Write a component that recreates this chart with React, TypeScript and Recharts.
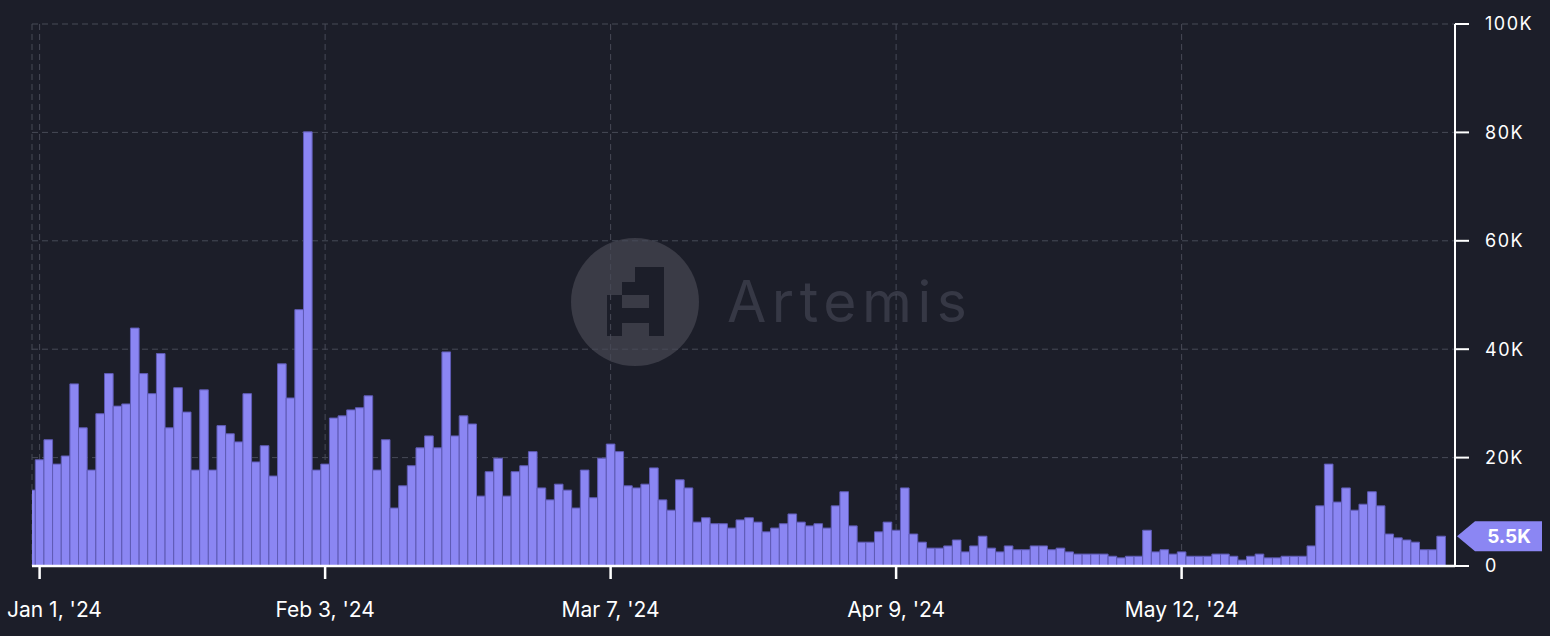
import { BarChart, Bar, XAxis, YAxis, CartesianGrid, ReferenceLine } from "recharts";

// daily values in thousands, Dec 31 '23 -> Jun 11 '24
const dec31 = [14.0];
const jan = [
  19.6, 23.3, 18.8, 20.3, 33.6, 25.5, 17.7, 28.1, 35.5, 29.5, 29.9, 43.9, 35.5, 31.8, 39.2, 25.5,
  32.9, 28.4, 17.7, 32.5, 17.7, 25.9, 24.4, 22.9, 31.8, 19.2, 22.2, 16.6, 37.3, 31.0, 47.3,
];
const feb = [
  80.1, 17.7, 18.8, 27.3, 27.7, 28.8, 29.2, 31.4, 17.7, 23.3, 10.7, 14.8, 18.5, 21.8, 24.0, 21.8,
  39.5, 24.0, 27.7, 26.2, 12.9, 17.4, 19.9, 12.9, 17.4, 18.5, 21.1, 14.4, 12.2,
];
const mar = [
  15.1, 14.0, 10.7, 17.7, 12.6, 19.9, 22.5, 21.1, 14.8, 14.4, 15.1, 18.1, 12.2, 10.3, 15.9, 14.4,
  8.1, 8.9, 7.8, 7.8, 7.0, 8.5, 8.9, 8.1, 6.3, 7.0, 7.8, 9.6, 8.1, 7.4, 7.8,
];
const apr = [
  7.0, 11.1, 13.7, 7.4, 4.4, 4.4, 6.3, 8.1, 6.6, 14.4, 5.9, 4.4, 3.3, 3.3, 3.7, 4.8, 2.6, 3.7, 5.5,
  3.3, 2.6, 3.7, 3.0, 3.0, 3.7, 3.7, 3.0, 3.3, 2.6, 2.2,
];
const may = [
  2.2, 2.2, 2.2, 1.8, 1.5, 1.8, 1.8, 6.6, 2.6, 3.0, 2.2, 2.6, 1.8, 1.8, 1.8, 2.2, 2.2, 1.8, 1.1,
  1.8, 2.2, 1.5, 1.5, 1.8, 1.8, 1.8, 3.7, 11.1, 18.8, 11.8, 14.4,
];
const jun = [10.3, 11.4, 13.7, 11.1, 5.9, 5.2, 4.8, 4.4, 3.0, 3.0, 5.5];

const tickDays = [0, 33, 66, 99, 132];
const tickLabels = ["Jan 1, '24", "Feb 3, '24", "Mar 7, '24", "Apr 9, '24", "May 12, '24"];
const yTicks = [0, 20, 40, 60, 80, 100];

const values = [...dec31, ...jan, ...feb, ...mar, ...apr, ...may, ...jun];
const data = values.map((v, i) => ({ day: i - 1, value: v }));
const lastValue = values[values.length - 1];

const BG = "#1c1e29";
const BAR = "#8b86f3";
const FONT = "Inter, sans-serif";

function XTick(props: any) {
  const { x, y, payload } = props;
  const i = tickDays.indexOf(payload.value);
  // first label is pushed inside the left edge
  const first = i === 0;
  return (
    <text
      x={first ? 7 : x}
      y={y}
      dy="0.78em"
      textAnchor={first ? "start" : "middle"}
      fill="#fff"
      fontSize={21}
      fontFamily={FONT}
    >
      {tickLabels[i]}
    </text>
  );
}

function Badge(props: any) {
  const vb = props.viewBox || {};
  const x0 = vb.x + vb.width;
  const y = vb.y;
  const pts = [
    [x0 + 2, y],
    [x0 + 20, y - 15],
    [x0 + 87, y - 15],
    [x0 + 87, y + 15],
    [x0 + 20, y + 15],
  ]
    .map((p) => p.join(","))
    .join(" ");
  return (
    <g>
      <polygon points={pts} fill={BAR} />
      <text
        x={x0 + 54}
        y={y + 6.5}
        textAnchor="middle"
        fill="#fff"
        fontSize={19}
        fontWeight={700}
        fontFamily={FONT}
      >
        {lastValue}K
      </text>
    </g>
  );
}

function Watermark() {
  return (
    <svg width={1550} height={636} style={{ position: "absolute", left: 0, top: 0 }}>
      <circle cx={635} cy={302} r={64} fill="#3a3b46" />
      <g fill={BG}>
        <rect x={635} y={267} width={29} height={15} />
        <rect x={622} y={282} width={42} height={13} />
        <rect x={607} y={295} width={15} height={41} />
        <rect x={649} y={295} width={15} height={41} />
        <rect x={622} y={308} width={27} height={15} />
      </g>
      <text x={727} y={322} fill="#363845" fontSize={57} fontFamily={FONT} letterSpacing={5.5}>
        Artemis
      </text>
    </svg>
  );
}

export default function App() {
  return (
    <div style={{ position: "relative", width: 1550, height: 636, background: BG }}>
      <style>{`body{margin:0;background:${BG}}`}</style>
      <Watermark />
      <div style={{ position: "absolute", left: 0, top: 0 }}>
        <BarChart
          width={1550}
          height={636}
          data={data}
          margin={{ top: 24, right: 0, bottom: 0, left: 32 }}
        >
          <CartesianGrid stroke="#474a57" strokeDasharray="6 4" />
          <XAxis
            dataKey="day"
            type="number"
            domain={[-0.88, 163.6]}
            allowDataOverflow
            ticks={tickDays}
            interval={0}
            height={70}
            axisLine={{ stroke: "#fff", strokeWidth: 2.5 }}
            tickLine={{ stroke: "#fff", strokeWidth: 2.5 }}
            tickSize={13}
            tickMargin={22}
            tick={<XTick />}
          />
          <YAxis
            orientation="right"
            domain={[0, 100]}
            ticks={yTicks}
            interval={0}
            width={95}
            tickFormatter={(v) => (v === 0 ? "0" : `${v}K`)}
            axisLine={{ stroke: "#fff", strokeWidth: 2 }}
            tickLine={{ stroke: "#fff", strokeWidth: 2 }}
            tickSize={14}
            tickMargin={16}
            tick={{ fill: "#fff", fontSize: 18, fontFamily: FONT, letterSpacing: 1.5 }}
          />
          <Bar
            dataKey="value"
            fill={BAR}
            stroke="#5f5bb5"
            strokeWidth={1}
            barSize={8.65}
            isAnimationActive={false}
          />
          <ReferenceLine y={lastValue} strokeOpacity={0} label={<Badge />} />
        </BarChart>
      </div>
    </div>
  );
}
